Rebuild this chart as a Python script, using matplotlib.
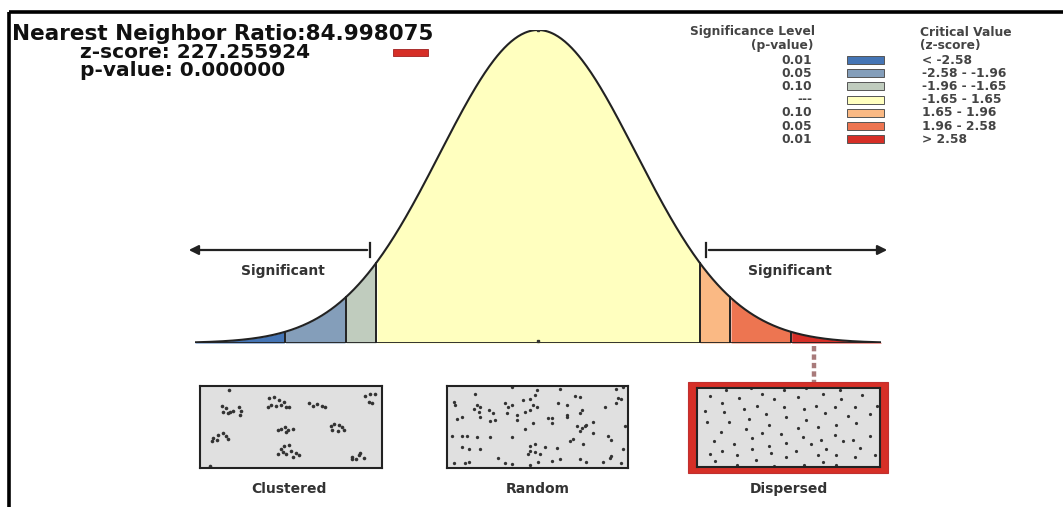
import numpy as np
import matplotlib
matplotlib.use("Agg")
import matplotlib.pyplot as plt
from matplotlib.patches import Rectangle

W, H = 1063, 507

# --- report values ---
nn_ratio = "84.998075"
z_score = "227.255924"
p_value = "0.000000"

# critical values / legend
crit_edges = [-3.5, -2.58, -1.96, -1.65, 1.65, 1.96, 2.58, 3.5]
bin_colors = ["#4575b5", "#849eba", "#c0ccbe", "#ffffbf", "#fab984", "#ed7551", "#d62f27"]
p_labels = ["0.01", "0.05", "0.10", "---", "0.10", "0.05", "0.01"]
z_labels = ["< -2.58", "-2.58 - -1.96", "-1.96 - -1.65", "-1.65 - 1.65",
            "1.65 - 1.96", "1.96 - 2.58", "> 2.58"]
result_bin = 6

# point patterns (box-relative coords, 0..1, y from top)
clustered_px = [(148,58),(125,108),(140,115),(150,125),(145,128),(160,122),(178,112),(185,122),
                (180,135),(130,125),(270,85),(285,82),(300,90),(315,95),(275,105),(290,108),
                (305,105),(320,110),(265,112),(330,112),(390,98),(400,108),(415,103),(430,108),
                (438,112),(560,78),(575,72),(590,72),(570,95),(580,100),(295,182),(305,178),
                (318,172),(325,180),(340,178),(320,186),(455,168),(465,162),(480,165),(490,172),
                (460,180),(478,185),(495,180),(100,205),(115,195),(128,190),(140,200),(145,208),
                (95,215),(110,213),(305,240),(315,230),(330,228),(335,245),(350,250),(320,255),
                (340,262),(360,258),(295,255),(310,248),(520,262),(530,270),(540,258),(545,250),
                (555,265),(520,270),(90,290)]
random_px = [(165,70),(100,95),(105,105),(170,105),(160,118),(180,110),(175,125),(205,120),
             (220,128),(255,100),(275,105),(265,110),(310,90),(330,88),(345,75),(350,60),
             (340,105),(350,112),(330,120),(315,125),(290,135),(260,130),(415,100),(440,105),
             (465,78),(480,82),(485,120),(480,128),(440,135),(440,140),(395,145),(385,145),
             (395,160),(340,160),(290,150),(225,150),(210,155),(180,142),(125,140),(110,148),
             (555,112),(590,100),(595,85),(605,88),(590,55),(610,50),(470,170),(485,175),
             (495,170),(500,165),(520,158),(480,183),(315,178),(95,198),(125,198),(140,198),
             (170,203),(210,203),(275,203),(450,215),(460,210),(490,225),(520,190),(565,200),
             (575,213),(615,168),(125,233),(145,240),(180,240),(330,230),(345,225),(330,245),
             (345,248),(325,255),(360,255),(375,232),(410,235),(420,270),(395,275),(235,267),
             (255,282),(275,285),(330,288),(355,280),(145,278),(135,283),(100,283),(480,270),
             (500,280),(550,278),(570,268),(575,260),(605,282),(610,240),(420,55),(275,50)]
dispersed_px = [(125,195),(170,175),(210,200),(245,170),(280,188),(315,205),(345,175),(385,198),
                (410,170),(460,188),(510,175),(515,205),(575,192),(110,240),(160,215),(165,245),
                (225,235),(265,225),(290,250),(345,230),(405,235),(440,225),(465,248),(495,228),
                (555,228),(600,250),(115,275),(180,275),(240,265),(300,285),(350,260),(410,270),
                (445,290),(500,285),(535,258),(560,280),(155,305),(230,298),(280,310),(335,312),
                (385,295),(400,322),(455,330),(495,315),(550,330),(135,335),(195,345),(250,325),
                (300,350),(350,340),(425,345),(470,360),(520,335),(570,355),(125,375),(160,365),
                (205,378),(250,358),(305,372),(350,385),(380,365),(445,378),(500,378),(555,385),
                (615,378),(140,395),(205,408),(260,392),(315,412),(405,408),(460,398),(500,410),
                (600,320),(620,225)]


def norm_pts(pts, x0, y0, w, h):
    a = np.array(pts, dtype=float)
    return (a[:, 0] - x0) / w, (a[:, 1] - y0) / h


def px_axes(fig, x0, y0, x1, y1):
    return fig.add_axes([x0 / W, 1 - y1 / H, (x1 - x0) / W, (y1 - y0) / H])


fig = plt.figure(figsize=(W / 100, H / 100), dpi=100)
ax = fig.add_axes([0, 0, 1, 1])
ax.set_xlim(0, W)
ax.set_ylim(H, 0)
ax.axis("off")

# frame lines (top and left only)
ax.plot([8.5, W], [11.5, 11.5], color="black", lw=2.6, solid_capstyle="butt")
ax.plot([8.5, 8.5], [11.5, H], color="black", lw=2.6, solid_capstyle="butt")

# header text
tfont = dict(family="DejaVu Sans", weight="bold", color="#111111")
ax.text(12, 34, "Nearest Neighbor Ratio:" + nn_ratio, fontsize=15.5, va="center", ha="left", **tfont)
ax.text(80, 53, "z-score: " + z_score, fontsize=14.5, va="center", ha="left", **tfont)
ax.text(80, 71, "p-value: " + p_value, fontsize=14.5, va="center", ha="left", **tfont)
ax.add_patch(Rectangle((393, 49), 35, 7, facecolor=bin_colors[result_bin], edgecolor="#a02020", lw=0.6))

# legend
lfont = dict(family="DejaVu Sans", weight="bold", color="#444444", fontsize=8.8)
ax.text(815, 32, "Significance Level", ha="right", va="center", **lfont)
ax.text(813, 45, "(p-value)", ha="right", va="center", **lfont)
ax.text(920, 32, "Critical Value", ha="left", va="center", **lfont)
ax.text(920, 45, "(z-score)", ha="left", va="center", **lfont)
for i in range(len(bin_colors)):
    yy = 60 + i * 13.2
    ax.text(812, yy, p_labels[i], ha="right", va="center", **lfont)
    ax.add_patch(Rectangle((847, yy - 4), 37, 8, facecolor=bin_colors[i], edgecolor="#555555", lw=0.7))
    ax.text(922, yy, z_labels[i], ha="left", va="center", **lfont)

# normal curve
cax = px_axes(fig, 195, 30, 881, 343)
z = np.linspace(crit_edges[0], crit_edges[-1], 600)
pdf = np.exp(-z ** 2 / 2)
for i, c in enumerate(bin_colors):
    m = (z >= crit_edges[i]) & (z <= crit_edges[i + 1])
    cax.fill_between(z[m], 0, pdf[m], color=c, lw=0)
for e in crit_edges[1:-1]:
    cax.plot([e, e], [0, np.exp(-e ** 2 / 2)], color="#222222", lw=1.4)
cax.plot(z, pdf, color="#222222", lw=1.5)
cax.plot([crit_edges[0], crit_edges[-1]], [0, 0], color="#222222", lw=1.3)
cax.plot([0], [0.006], marker="s", ms=2, color="#333333")
cax.plot([0], [1.0], marker="s", ms=2, color="#333333")
cax.set_xlim(crit_edges[0], crit_edges[-1])
cax.set_ylim(0, 1.0)
cax.axis("off")
cax.patch.set_alpha(0)

# significance arrows and labels
sfont = dict(family="DejaVu Sans", weight="bold", color="#333333", fontsize=10)
ax.annotate("", xy=(186, 250), xytext=(370, 250),
            arrowprops=dict(arrowstyle="-|>", color="#222222", lw=1.6, mutation_scale=14))
ax.plot([370, 370], [243, 257], color="#222222", lw=1.6)
ax.annotate("", xy=(890, 250), xytext=(706, 250),
            arrowprops=dict(arrowstyle="-|>", color="#222222", lw=1.6, mutation_scale=14))
ax.plot([706, 706], [243, 257], color="#222222", lw=1.6)
ax.text(283, 271, "Significant", ha="center", va="center", **sfont)
ax.text(790, 271, "Significant", ha="center", va="center", **sfont)
ax.text(538, 253, "(Random)", ha="center", va="center", **sfont)

# dashed connector to the dispersed box
ax.plot([814, 814], [346, 382], color="#a87a7a", lw=3.2, linestyle=(0, (1.2, 0.7)))

# pattern boxes
def pattern_box(x0, y0, x1, y1, xs, ys, ms):
    b = px_axes(fig, x0, y0, x1, y1)
    b.set_facecolor("#e0e0e0")
    b.plot(xs, ys, "o", ms=ms, color="#333333", mec="none")
    b.set_xlim(0, 1)
    b.set_ylim(1, 0)
    b.set_xticks([])
    b.set_yticks([])
    for s in b.spines.values():
        s.set_linewidth(1.5)
        s.set_color("#222222")
    return b

xs, ys = norm_pts(clustered_px, 60, 47, 550, 250)
pattern_box(200, 386, 382, 468, xs, ys, 2.6)
xs, ys = norm_pts(random_px, 80, 47, 545, 250)
pattern_box(447, 386, 628, 468, xs, ys, 2.4)
ax.add_patch(Rectangle((688, 382), 200, 91, facecolor=bin_colors[result_bin], edgecolor="#c03030", lw=0.8))
xs, ys = norm_pts(dispersed_px, 85, 170, 545, 245)
pattern_box(697, 388, 880, 467, xs, ys, 2.3)

ax.text(289, 489, "Clustered", ha="center", va="center", **sfont)
ax.text(538, 489, "Random", ha="center", va="center", **sfont)
ax.text(789, 489, "Dispersed", ha="center", va="center", **sfont)

fig.savefig("out.png", dpi=100)
